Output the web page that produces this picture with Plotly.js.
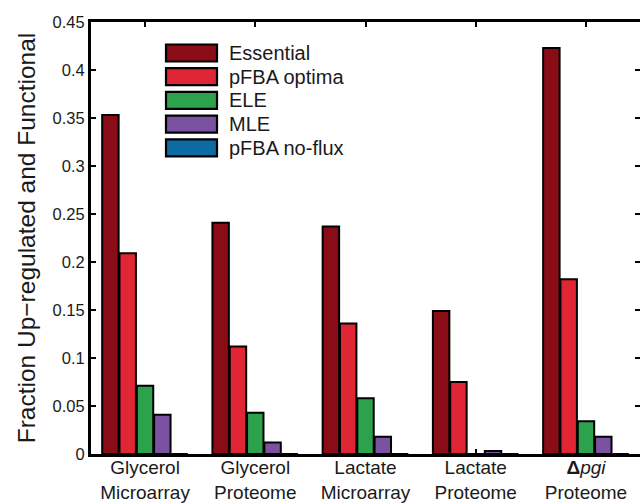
<!DOCTYPE html>
<html>
<head>
<meta charset="utf-8">
<script src="https://cdn.plot.ly/plotly-3.0.1.min.js"></script>
<style>html,body{margin:0;padding:0;background:#fff;}#chart{width:640px;height:504px;}</style>
</head>
<body>
<div id="chart"></div>
<script>
const categories = [1, 2, 3, 4, 5];
const tickLabels = ["Glycerol<br>Microarray", "Glycerol<br>Proteome", "Lactate<br>Microarray", "Lactate<br>Proteome", "<b>Δ</b><i>pgi</i><br>Proteome"];
const seriesNames = ["Essential", "pFBA optima", "ELE", "MLE", "pFBA no-flux"];
const seriesColors = ["#8A0C16", "#E02535", "#2CA24C", "#7A52A1", "#0A6CA2"];
const essential = [0.353, 0.241, 0.237, 0.149, 0.423];
const pfbaOptima = [0.209, 0.112, 0.136, 0.075, 0.182];
const ele = [0.071, 0.043, 0.058, 0.0, 0.034];
const mle = [0.041, 0.012, 0.018, 0.003, 0.018];
const pfbaNoFlux = [0, 0, 0, 0, 0];
const seriesValues = [essential, pfbaOptima, ele, mle, pfbaNoFlux];
const yTicks = [0, 0.05, 0.1, 0.15, 0.2, 0.25, 0.3, 0.35, 0.4, 0.45];

const font = {family: "Liberation Sans, Arial, sans-serif", color: "#1a1a1a"};

const traces = seriesValues.map((vals, i) => ({
  type: "bar",
  name: seriesNames[i],
  x: categories,
  y: vals,
  marker: {color: seriesColors[i], line: {color: "#000", width: 2}},
  hoverinfo: "skip"
}));

// Legend drawn as paper-space shapes + annotations (large MATLAB-style swatches)
const plotL = 91, plotW = 549, plotT = 22, plotH = 432;
const px2x = p => (p - plotL) / plotW;
const py2y = p => (plotT + plotH - p) / plotH;
const legShapes = [], legAnn = [];
seriesNames.forEach((name, i) => {
  const cy = 53 + i * 23.7;
  legShapes.push({
    type: "rect", xref: "paper", yref: "paper",
    x0: px2x(166), x1: px2x(217), y0: py2y(cy + 8.5), y1: py2y(cy - 8.5),
    fillcolor: seriesColors[i], line: {color: "#000", width: 2.2}
  });
  legAnn.push({
    xref: "paper", yref: "paper", x: px2x(227), y: py2y(cy),
    xanchor: "left", yanchor: "middle", showarrow: false,
    text: name, font: Object.assign({size: 20}, font)
  });
});

const layout = {
  width: 640, height: 504,
  margin: {l: plotL, r: 0, t: plotT, b: 504 - plotT - plotH},
  paper_bgcolor: "#fff", plot_bgcolor: "#fff",
  font: Object.assign({size: 16}, font),
  barmode: "group",
  bargap: 0.215,
  bargroupgap: 0.05,
  showlegend: false,
  shapes: legShapes,
  annotations: legAnn,
  xaxis: {
    range: [0.51, 5.49],
    tickvals: categories, ticktext: tickLabels,
    ticks: "inside", ticklen: 5, tickwidth: 2, tickcolor: "#000",
    showline: true, linecolor: "#000", linewidth: 3, mirror: "ticks",
    showgrid: false, zeroline: false, layer: "below traces",
    ticklabelstandoff: -6,
    tickfont: Object.assign({size: 19}, font)
  },
  yaxis: {
    range: [0, 0.45],
    tickvals: yTicks,
    ticks: "inside", ticklen: 5, tickwidth: 2, tickcolor: "#000",
    showline: true, linecolor: "#000", linewidth: 3, mirror: "ticks",
    showgrid: false, zeroline: false,
    tickfont: Object.assign({size: 16.5}, font),
    title: {text: "Fraction Up−regulated and Functional", font: Object.assign({size: 24.5}, font), standoff: 11}
  }
};

Plotly.newPlot("chart", traces, layout, {displayModeBar: false, staticPlot: true});
</script>
</body>
</html>
